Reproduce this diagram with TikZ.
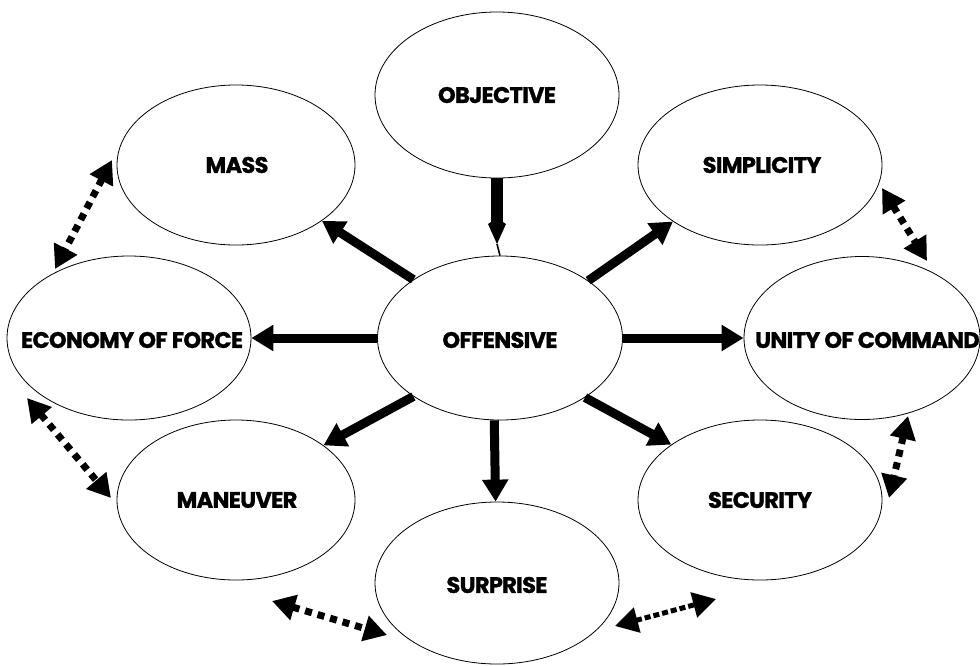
\documentclass[tikz,border=0pt]{standalone}
\usepackage{fontspec}
\newfontfamily\lblfont{Poppins}[BoldFeatures={FakeBold=1.2}, LetterSpace=-3]
\usetikzlibrary{arrows.meta,shapes.geometric}
\begin{document}
\begin{tikzpicture}[x=1pt,y=-1pt,
  ell/.style={ellipse, draw, line width=0.8pt, inner sep=0pt},
  lbl/.style={font=\lblfont\bfseries\fontsize{22.5}{25}\selectfont, inner sep=0pt},
  solidarr/.style={line width=9pt, -{Triangle[width=25pt,length=22pt]}},
  dotarr/.style={line width=7pt, dash pattern=on 7pt off 6pt,
    {Triangle[width=25pt,length=23pt]}-{Triangle[width=25pt,length=23pt]}},
]
\useasboundingbox (0,0) rectangle (980,665);
% ellipses
\node[ell, minimum width=244pt, minimum height=166pt] (obj) at (497,95) {};
\node[ell, minimum width=238pt, minimum height=160pt] (mass) at (236,165) {};
\node[ell, minimum width=244pt, minimum height=160pt] (simp) at (760,165) {};
\node[ell, minimum width=244pt, minimum height=164pt] (econ) at (129,338) {};
\node[ell, minimum width=245pt, minimum height=164pt] (off) at (500,338) {};
\node[ell, minimum width=236pt, minimum height=163pt] (unity) at (862,338) {};
\node[ell, minimum width=238pt, minimum height=160pt] (man) at (236,500) {};
\node[ell, minimum width=244pt, minimum height=160pt] (sec) at (760,500) {};
\node[ell, minimum width=244pt, minimum height=162pt] (sur) at (497,583) {};
% labels
\node[lbl] (tobj) at (497,95) {OBJECTIVE};
\node[lbl] (tmass) at (237,165) {MASS};
\node[lbl] (tsimp) at (762,165) {SIMPLICITY};
\node[lbl] (tecon) at (132,340) {ECONOMY OF FORCE};
\node[lbl] (toff) at (500,340) {OFFENSIVE};
\node[lbl, anchor=west] (tunity) at (755,340) {UNITY OF COMMAND};
\node[lbl] (tman) at (237,500) {MANEUVER};
\node[lbl] (tsec) at (760,500) {SECURITY};
\node[lbl] (tsur) at (497,585) {SURPRISE};
% objective arrow
\coordinate (objtip) at (497,244);
\draw[line width=12pt, -{Kite[width=18pt,length=26pt,inset=6pt]}] (obj.south) -- (objtip);
\draw[line width=1.6pt] (objtip) -- (off.north);
% solid arrows from offensive
\draw[solidarr] (off.146.3) -- (mass.327.7);
\draw[solidarr] (off.33.4) -- (simp.213.7);
\draw[solidarr] (off.west) -- (econ.east);
\draw[solidarr] (off.east) -- (unity.west);
\draw[solidarr] (off.214.3) -- (man.32.2);
\draw[solidarr] (off.325.4) -- (sec.148.1);
\draw[solidarr] (off.266.5) -- (sur.91.5);
% dotted double arrows
\coordinate (d1a) at (112,160); \coordinate (d1b) at (55,269);
\coordinate (d2a) at (27,398);  \coordinate (d2b) at (111,498);
\coordinate (d3a) at (272,601); \coordinate (d3b) at (387,635);
\coordinate (d4a) at (615,626); \coordinate (d4b) at (716,599);
\coordinate (d5a) at (882,188); \coordinate (d5b) at (927,261);
\coordinate (d6a) at (908,416); \coordinate (d6b) at (889,498);
\draw[dotarr] (d1a) -- (d1b);
\draw[dotarr] (d2a) -- (d2b);
\draw[dotarr] (d3a) -- (d3b);
\draw[dotarr, line width=5pt, dash pattern=on 6pt off 3pt] (d4a) -- (d4b);
\draw[dotarr] (d5a) -- (d5b);
\draw[dotarr] (d6a) -- (d6b);
\end{tikzpicture}
\end{document}
